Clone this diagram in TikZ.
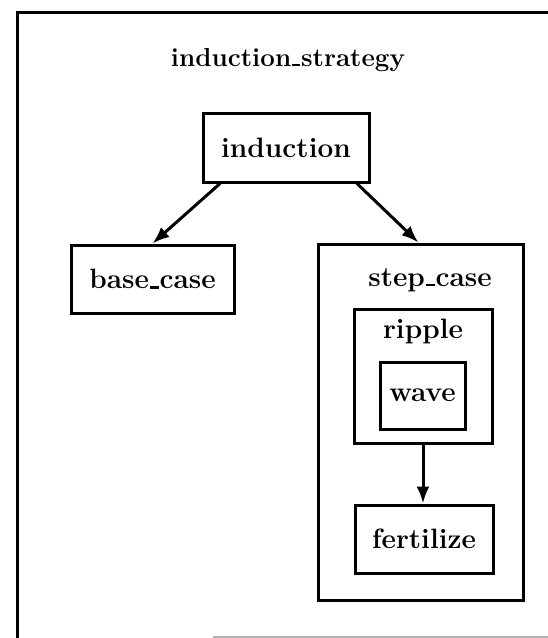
\documentclass[tikz,border=0pt]{standalone}
\usetikzlibrary{arrows.meta, positioning, calc}
\newcommand{\uscore}{\leavevmode\kern.03em\vbox{\hrule width.32em height .09em}\kern.03em}

\begin{document}
\begin{tikzpicture}[x=1pt, y=-1pt,
  lbl/.style={font=\fontsize{28}{32}\selectfont\bfseries, inner sep=0pt},
  box/.style={lbl, draw, line width=3pt},
  arr/.style={-{Latex[length=17pt, width=13pt]}, line width=3pt},
  frame/.style={line width=3pt}
]
  \useasboundingbox (0,0) rectangle (548,638);

  \coordinate (ftl) at (17,12);
  \coordinate (ftr) at (548,12);
  \coordinate (fbl) at (17,638);
  \coordinate (fbm) at (213,637);
  \coordinate (fbr) at (548,637);
  \draw[frame] (fbl) -- (ftl) -- (ftr);
  \draw[gray!60, line width=1.2pt] (fbm) -- (fbr);

  \node[lbl, font=\fontsize{26}{30}\selectfont\bfseries] (title) at (288,60) {induction\uscore strategy};

  \node[box, minimum width=166pt, minimum height=69pt] (induct) at (286,147.5) {induction};
  \node[box, minimum width=163pt, minimum height=68pt] (base) at (152.5,279) {base\uscore case};
  \node[box, minimum width=205pt, minimum height=356pt] (step) at (420.5,422) {};
  \node[lbl] (steplbl) at (430,280) {step\uscore case};
  \node[box, minimum width=138pt, minimum height=134pt] (ripple) at (423,376) {};
  \node[lbl] (ripplelbl) at (423,331) {ripple};
  \node[box, minimum width=85pt, minimum height=67pt] (wave) at (422.5,395.5) {wave};
  \node[box, minimum width=138pt, minimum height=68pt] (fert) at (424,539) {fertilize};

  \draw[arr] ($(induct.south west)!0.11!(induct.south east)$) -- (base.north);
  \draw[arr] ($(induct.south west)!0.92!(induct.south east)$) -- ($(step.north west)!0.49!(step.north east)$);
  \draw[arr] (ripple.south) -- (ripple.south |- fert.north);
\end{tikzpicture}
\end{document}
